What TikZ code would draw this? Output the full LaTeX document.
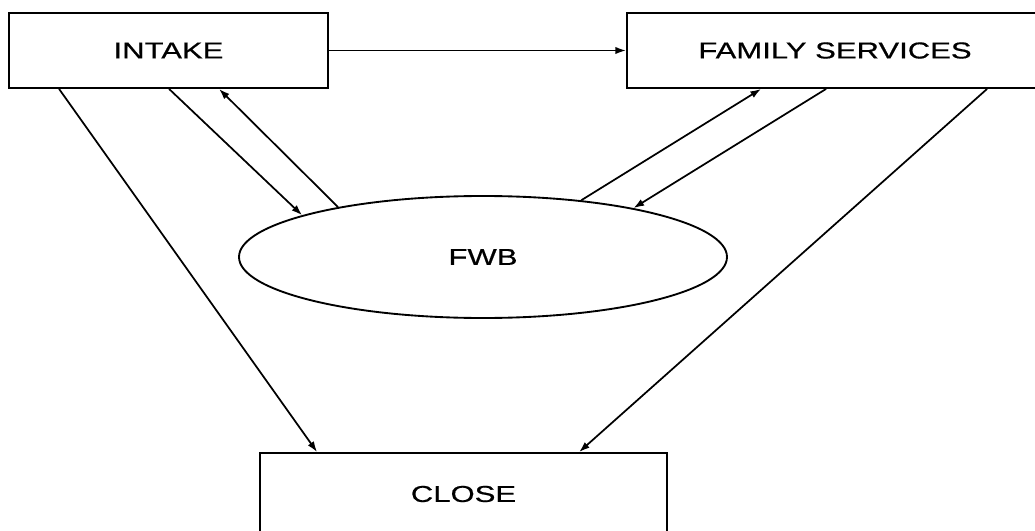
\documentclass[tikz,border=0pt]{standalone}
\usepackage{fontspec}
\newfontfamily\diagfont[FakeStretch=1.35,FakeBold=0.6]{Liberation Sans}
\usetikzlibrary{shapes.geometric,arrows.meta}
\tikzset{
  boxnode/.style={draw,line width=1.4pt,inner sep=0pt,font=\diagfont\fontsize{17.25}{20}\selectfont},
  ovalnode/.style={ellipse,draw,line width=1.4pt,inner sep=0pt,minimum width=366pt,minimum height=91.5pt,font=\diagfont\fontsize{17.25}{20}\selectfont},
  conn/.style={line width=1.3pt,-{Latex[length=8pt,width=5.5pt]}},
}
\begin{document}
\begin{tikzpicture}[x=0.75pt,y=-0.75pt]
\useasboundingbox (0,0) rectangle (1035,531);
\clip (0,0) rectangle (1035,531);
\fill[white] (0,0) rectangle (1035,531);
\node[boxnode,minimum width=239.25pt,minimum height=56.25pt] (intake) at (168.5,50.5) {INTAKE};
\node[boxnode,minimum width=312pt,minimum height=56.25pt] (fs) at (835,50.5) {FAMILY SERVICES};
\node[ovalnode] (fwb) at (483,257) {FWB};
\node[boxnode,minimum width=305.25pt,minimum height=61.5pt] (close) at (463.5,494) {CLOSE};
\draw[conn] (intake.east) -- (fs.west);
\draw[conn] ([xshift=38.25pt]intake.south west) -- ([xshift=43.5pt]close.north west);
\draw[conn] ([xshift=120.75pt]intake.south west) -- (fwb.167);
\draw[conn] (fwb.161) -- ([xshift=158.25pt]intake.south west);
\draw[conn] (fwb.30) -- ([xshift=101.25pt]fs.south west);
\draw[conn] ([xshift=150pt]fs.south west) -- (fwb.18);
\draw[conn] ([xshift=270.75pt]fs.south west) -- ([xshift=240pt]close.north west);
\end{tikzpicture}
\end{document}
